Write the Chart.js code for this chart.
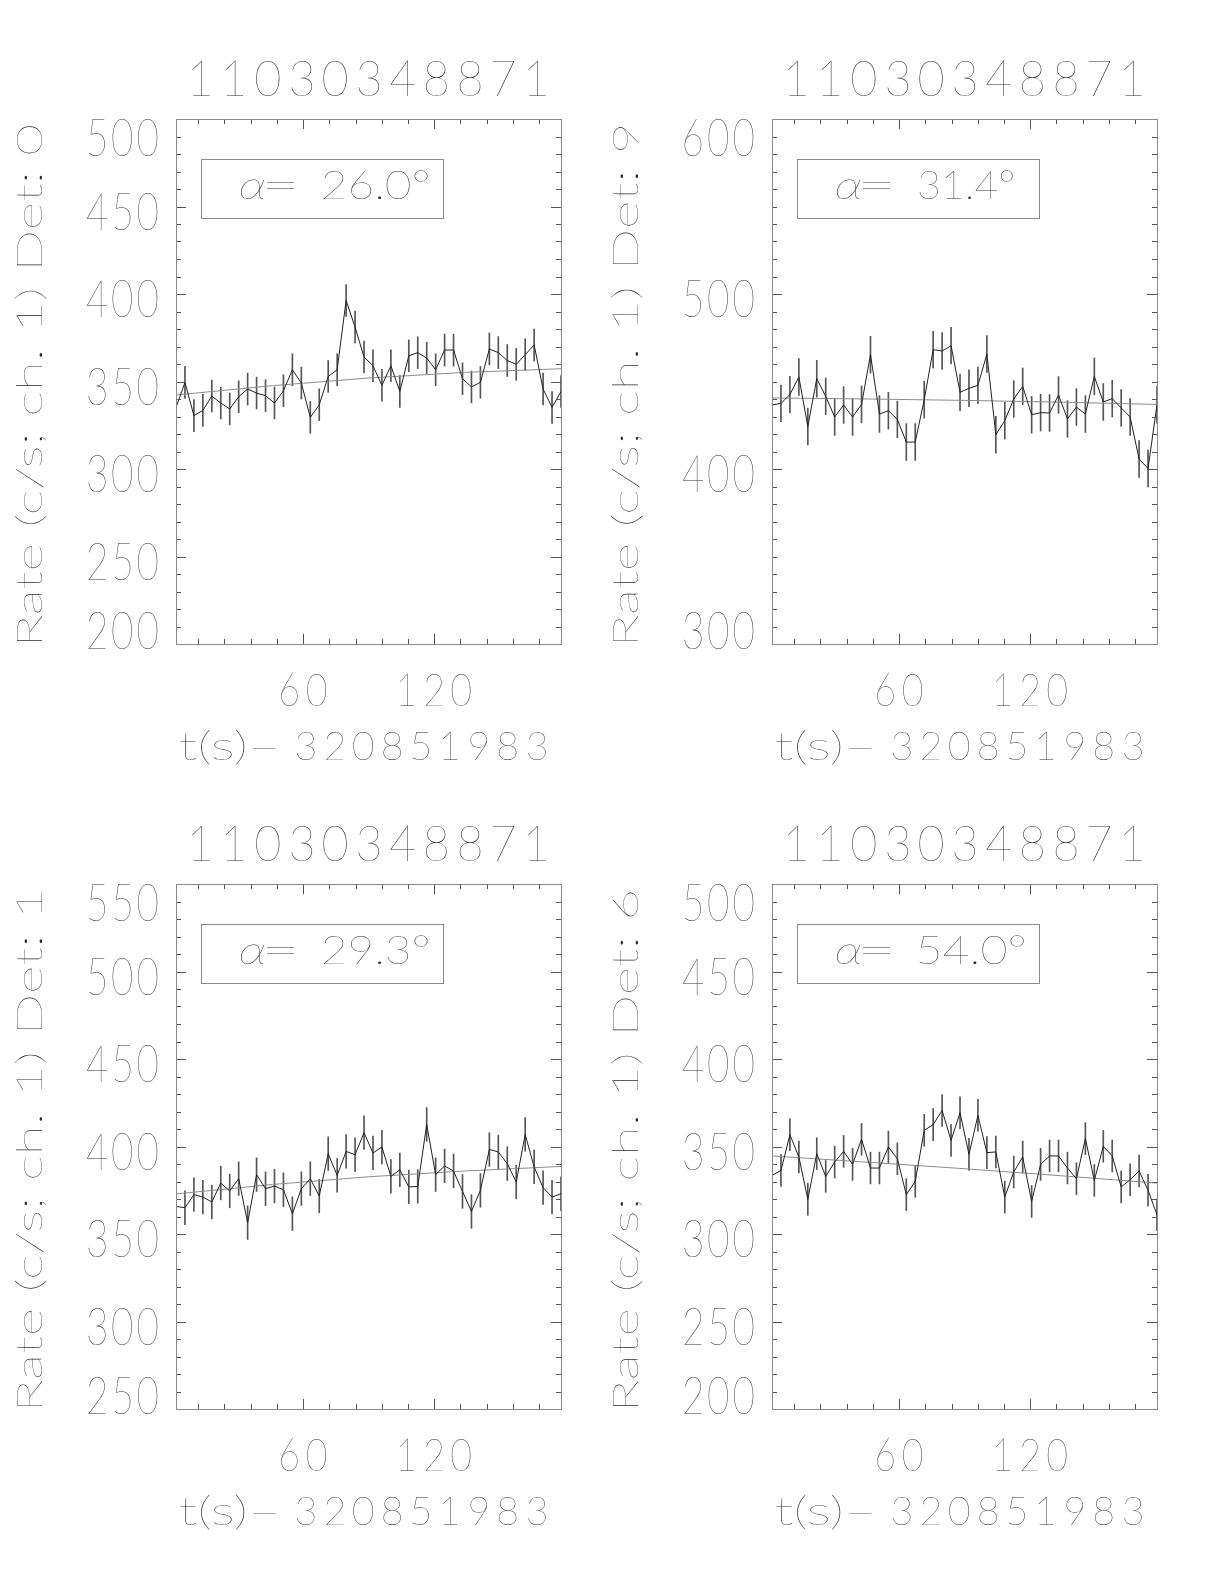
<!DOCTYPE html>
<html>
<head>
<meta charset="utf-8">
<script src="https://cdn.jsdelivr.net/npm/chart.js@4.4.0/dist/chart.umd.min.js"></script>
<style>
  body { margin: 0; background: #fff; width: 1224px; height: 1584px; position: relative; overflow: hidden; }
  canvas { position: absolute; }
</style>
</head>
<body>
<canvas id="c0" width="600" height="780" style="left:0;top:0"></canvas>
<canvas id="c9" width="600" height="780" style="left:596px;top:0"></canvas>
<canvas id="c1" width="600" height="780" style="left:0;top:765px"></canvas>
<canvas id="c6" width="600" height="780" style="left:596px;top:765px"></canvas>
<script>
// bin times (s after 320851983)
const times = [1.8, 5.9, 10.0, 14.1, 18.2, 22.3, 26.4, 30.5, 34.6, 38.7, 42.8, 46.9, 51.0, 55.1, 59.2,
  63.3, 67.4, 71.5, 75.6, 79.7, 83.8, 87.9, 92.0, 96.1, 100.2, 104.3, 108.4, 112.5, 116.6, 120.7,
  124.8, 128.9, 133.0, 137.1, 141.2, 145.3, 149.4, 153.5, 157.6, 161.7, 165.8, 169.9, 174.0, 178.1];

// count rates, ch. 1
const det0Rate = [335.2, 349.5, 330.5, 333.5, 341.7, 337.7, 334.3, 341.3, 345.7, 343.4, 341.9, 337.7, 344.7, 356.7, 349.1,
  329.5, 336.7, 352.9, 356.7, 396.3, 381.1, 364.0, 359.0, 347.8, 359.0, 344.3, 364.7, 366.5, 363.4, 356.7,
  368.0, 368.0, 351.6, 346.9, 349.5, 368.6, 366.5, 362.0, 359.8, 365.3, 370.9, 345.7, 335.2, 344.3];
const det9Rate = [436.6, 437.5, 442.5, 452.6, 424.3, 451.6, 441.5, 429.7, 436.6, 429.7, 436.9, 465.3, 431.4, 433.3, 428.3,
  415.4, 415.4, 439.6, 468.2, 467.4, 470.5, 443.8, 446.1, 447.8, 465.7, 419.6, 427.6, 440.0, 447.2, 431.0,
  432.2, 432.0, 442.3, 428.6, 435.4, 431.4, 452.9, 438.3, 440.2, 434.9, 429.7, 405.7, 400.3, 436.7];
const det1Rate = [365.8, 365.0, 372.5, 371.1, 368.3, 379.1, 374.6, 381.6, 356.5, 383.9, 375.9, 377.4, 375.3, 361.6, 375.9,
  381.6, 371.7, 395.9, 383.5, 397.2, 395.3, 407.9, 396.3, 399.7, 382.9, 386.7, 376.9, 377.2, 412.6, 383.9,
  388.9, 386.0, 374.3, 362.9, 374.9, 398.3, 396.9, 390.2, 379.7, 406.9, 388.3, 376.5, 371.1, 373.0];
const det6Rate = [333.5, 336.3, 356.7, 344.0, 319.8, 345.9, 332.9, 341.1, 347.2, 339.8, 354.1, 337.7, 337.7, 349.7, 343.0,
  322.5, 330.1, 359.2, 362.5, 370.6, 353.5, 369.3, 345.5, 367.8, 346.5, 346.9, 321.1, 335.4, 344.0, 318.6,
  339.8, 344.6, 344.6, 337.7, 331.6, 354.5, 330.6, 350.1, 344.6, 326.9, 331.0, 336.0, 325.0, 311.0];

// half length of error bars (c/s)
const det0Err = 9.1;
const det9Err = 10.5;
const det1Err = 9.6;
const det6Err = 9.1;

// background fit, sampled
const fitTimes = [1.8, 46, 90, 134, 178.1];
const det0Fit = [342.3, 347.6, 352.0, 355.2, 357.3];
const det9Fit = [440.6, 440.0, 439.2, 438.2, 436.9];
const det1Fit = [372.9, 378.3, 382.7, 386.0, 388.6];
const det6Fit = [344.6, 341.0, 337.3, 333.3, 329.1];

// axes
const xTicks = [12, 24, 36, 48, 60, 72, 84, 96, 108, 120, 132, 144, 156, 168];
const xTickLabels = [60, 120];
const det0YLabels = [200, 250, 300, 350, 400, 450, 500];
const det9YLabels = [300, 400, 500, 600];
const det1YLabels = [250, 300, 350, 400, 450, 500, 550];
const det6YLabels = [200, 250, 300, 350, 400, 450, 500];
const yMinorStep = 10;

const burstId = '11030348871';
const timeRef = '320851983';

const FONT = '"Lato", "Roboto", sans-serif';
const FONT_W = 200;
const INK = '#2a2a2a';

function setFont(ctx, cap, italic) {
  const style = italic ? 'italic ' : '';
  ctx.font = style + FONT_W + ' 100px ' + FONT;
  const capRef = ctx.measureText('0').actualBoundingBoxAscent;
  const size = 100 * cap / capRef;
  ctx.font = style + FONT_W + ' ' + size.toFixed(2) + 'px ' + FONT;
  ctx.textAlign = 'left';
  ctx.textBaseline = 'alphabetic';
}

// free text squeezed to a given ink width
function drawFit(ctx, str, o) {
  setFont(ctx, o.cap, o.italic);
  const m = ctx.measureText(str);
  const ink = m.actualBoundingBoxLeft + m.actualBoundingBoxRight;
  const sx = o.sx || (o.w ? o.w / ink : 1);
  let dx = m.actualBoundingBoxLeft;
  if (o.align === 'center') dx = (m.actualBoundingBoxLeft - m.actualBoundingBoxRight) / 2;
  if (o.align === 'right') dx = -m.actualBoundingBoxRight;
  ctx.save();
  ctx.translate(o.x, o.y);
  if (o.rot) ctx.rotate(o.rot);
  ctx.scale(sx, 1);
  ctx.fillText(str, dx, 0);
  ctx.restore();
}

// digits on a fixed pitch, like the vector font of the original
function drawMono(ctx, str, o) {
  setFont(ctx, o.cap, false);
  const z = ctx.measureText('0');
  const sx = o.gw / (z.actualBoundingBoxLeft + z.actualBoundingBoxRight);
  const n = str.length;
  let cx0;
  if (o.align === 'right') cx0 = o.x - o.gw / 2 - (n - 1) * o.adv;
  else if (o.align === 'left') cx0 = o.x + o.gw / 2;
  else cx0 = o.x - (n - 1) * o.adv / 2;
  for (let i = 0; i < n; i++) {
    const m = ctx.measureText(str[i]);
    const mid = (m.actualBoundingBoxRight - m.actualBoundingBoxLeft) / 2;
    ctx.save();
    ctx.translate(cx0 + i * o.adv, o.y);
    ctx.scale(sx, 1);
    ctx.fillText(str[i], -mid, 0);
    ctx.restore();
  }
}

function framePlugin(p) {
  return {
    id: 'frame' + p.det,
    afterDraw(chart) {
      const ctx = chart.ctx, a = chart.chartArea;
      const xs = chart.scales.x, ys = chart.scales.y;
      ctx.save();
      ctx.lineWidth = 1;
      ctx.strokeStyle = '#555';
      ctx.beginPath();
      xTicks.forEach(t => {
        const px = Math.round(xs.getPixelForValue(t)) + 0.5;
        const len = xTickLabels.includes(t) ? 10 : 5;
        ctx.moveTo(px, a.bottom); ctx.lineTo(px, a.bottom - len);
        ctx.moveTo(px, a.top); ctx.lineTo(px, a.top + len);
      });
      for (let v = p.yMin + yMinorStep; v < p.yMax; v += yMinorStep) {
        const py = Math.round(ys.getPixelForValue(v)) + 0.5;
        const len = v % p.yMajor === 0 ? 10 : 5;
        ctx.moveTo(a.left, py); ctx.lineTo(a.left + len, py);
        ctx.moveTo(a.right, py); ctx.lineTo(a.right - len, py);
      }
      ctx.stroke();

      ctx.strokeStyle = '#8a8a8a';
      ctx.strokeRect(Math.round(a.left) + 0.5, Math.round(a.top) + 0.5,
        Math.round(a.right - a.left), Math.round(a.bottom - a.top));
      // alpha box
      ctx.strokeRect(201.5, 159.5, 242, 59);

      ctx.fillStyle = INK;
      // title
      drawMono(ctx, burstId, {x: 369, y: 95.7, cap: 36, adv: 33.6, gw: 24});
      // y tick labels
      p.yLabels.forEach(v => {
        const t = ys.getPixelForValue(v);
        const c = Math.min(Math.max(t + 4.6, a.top + 18.5), a.bottom - 14);
        drawMono(ctx, String(v), {x: 158, y: c + 18.5, cap: 37, adv: 25.5, gw: 20, align: 'right'});
      });
      // x tick labels
      xTickLabels.forEach(t => {
        const px = xs.getPixelForValue(t);
        drawMono(ctx, String(t), {x: px, y: 706, cap: 32, adv: 27, gw: 20});
      });
      // x title
      drawFit(ctx, 't(s)\u2013', {x: 180, y: 760, cap: 28, w: 97, align: 'left'});
      drawMono(ctx, timeRef, {x: 295, y: 760, cap: 28, adv: 28.9, gw: 21, align: 'left'});
      // y title
      drawFit(ctx, 'Rate (c/s; ch. 1) Det: ' + p.det, {x: 42, y: 383.5, cap: 25, w: 515, align: 'center', rot: -Math.PI / 2});
      // alpha annotation
      drawFit(ctx, '\u03b1', {x: 240, y: 199, cap: 28, w: 25, align: 'left', italic: true});
      drawFit(ctx, '=', {x: 266, y: 199, cap: 28, w: 29, align: 'left'});
      drawFit(ctx, p.alpha, {x: 323, y: 199, cap: 28, w: p.alphaW, align: 'left'});
      ctx.restore();
    }
  };
}

const panels = [
  {id: 'c0', det: '0', rate: det0Rate, err: det0Err, fit: det0Fit, yMin: 200, yMax: 500, yMajor: 50, yLabels: det0YLabels, alpha: '26.0\u00b0', alphaW: 105},
  {id: 'c9', det: '9', rate: det9Rate, err: det9Err, fit: det9Fit, yMin: 300, yMax: 600, yMajor: 100, yLabels: det9YLabels, alpha: '31.4\u00b0', alphaW: 94},
  {id: 'c1', det: '1', rate: det1Rate, err: det1Err, fit: det1Fit, yMin: 250, yMax: 550, yMajor: 50, yLabels: det1YLabels, alpha: '29.3\u00b0', alphaW: 105},
  {id: 'c6', det: '6', rate: det6Rate, err: det6Err, fit: det6Fit, yMin: 200, yMax: 500, yMajor: 50, yLabels: det6YLabels, alpha: '54.0\u00b0', alphaW: 105}
];

panels.forEach(p => {
  const ctx = document.getElementById(p.id);
  new Chart(ctx, {
    type: 'line',
    data: {
      datasets: [
        {
          type: 'line',
          data: times.map((t, i) => ({x: t, y: p.rate[i]})),
          borderColor: '#222',
          borderWidth: 1,
          pointRadius: 0,
          tension: 0,
          order: 0
        },
        {
          type: 'line',
          data: fitTimes.map((t, i) => ({x: t, y: p.fit[i]})),
          borderColor: '#8c8c8c',
          borderWidth: 1,
          pointRadius: 0,
          tension: 0,
          order: 1
        },
        {
          type: 'bar',
          data: times.map((t, i) => ({x: t, y: [p.rate[i] - p.err, p.rate[i] + p.err]})),
          backgroundColor: '#555',
          borderWidth: 0,
          barThickness: 1,
          order: 2
        }
      ]
    },
    options: {
      responsive: false,
      animation: false,
      devicePixelRatio: 1,
      events: [],
      layout: {padding: {left: 176, right: 39, top: 119, bottom: 136}},
      plugins: {legend: {display: false}, tooltip: {enabled: false}},
      scales: {
        x: {type: 'linear', min: times[0], max: times[times.length - 1], offset: false, display: false},
        y: {type: 'linear', min: p.yMin, max: p.yMax, display: false}
      }
    },
    plugins: [framePlugin(p)]
  });
});
</script>
</body>
</html>
